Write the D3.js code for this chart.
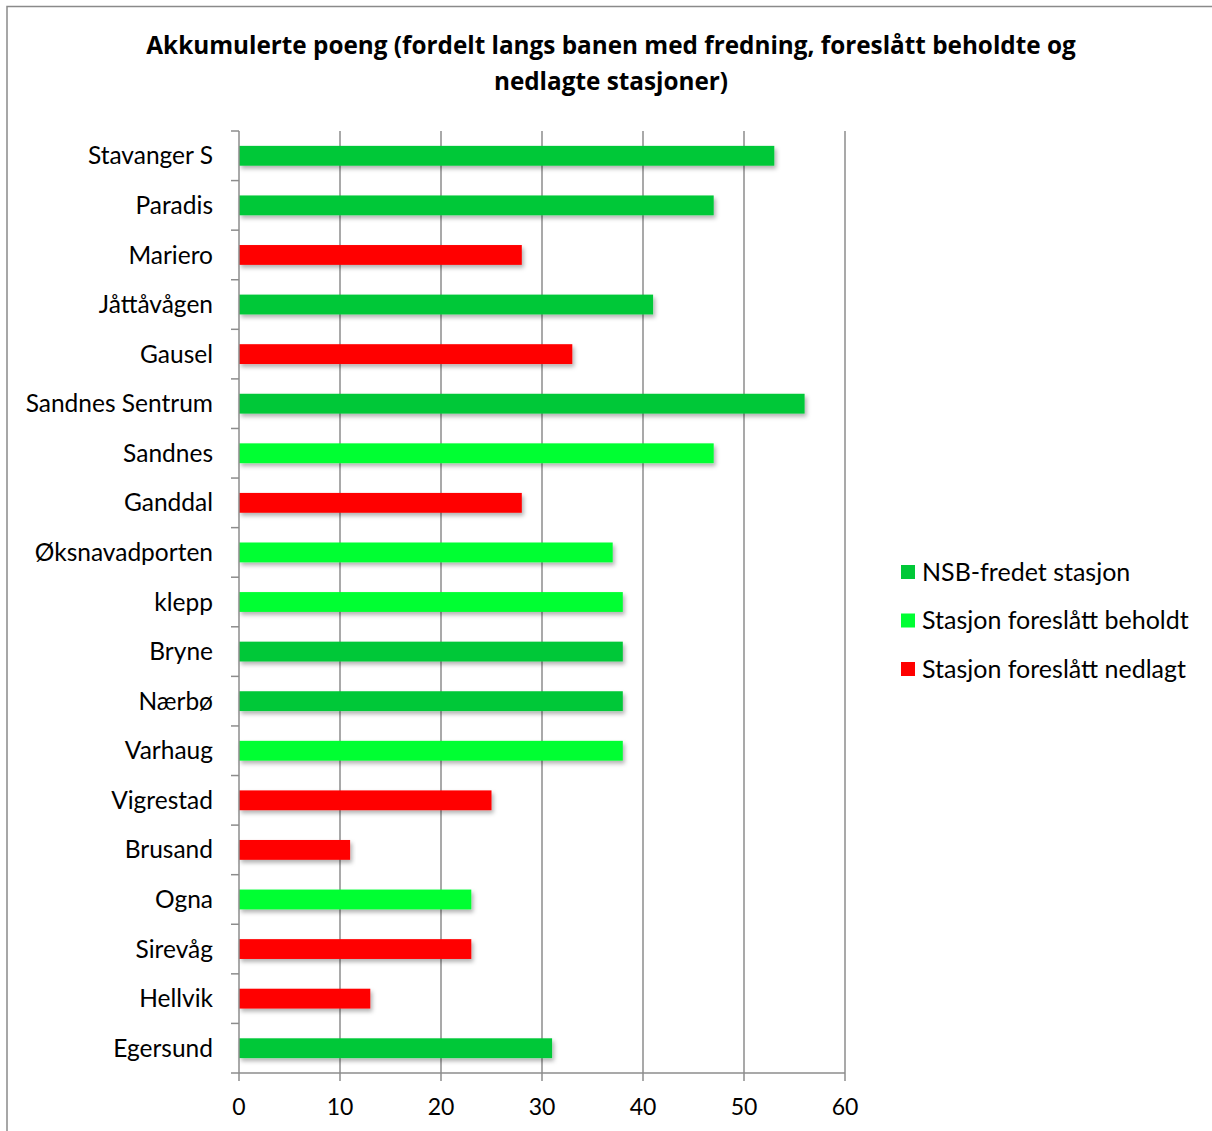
<!DOCTYPE html>
<html>
<head>
<meta charset="utf-8">
<title>Akkumulerte poeng</title>
<script src="https://d3js.org/d3.v7.min.js"></script>
<style>
    body { margin: 0; background: #fff; font-family: Lato, "Open Sans", sans-serif; }
    svg { display: block; }
</style>
</head>
<body>
<svg id="chart" width="1212" height="1131"></svg>
<script>
    const stations = ["Stavanger S", "Paradis", "Mariero", "Jåttåvågen", "Gausel", "Sandnes Sentrum",
        "Sandnes", "Ganddal", "Øksnavadporten", "klepp", "Bryne", "Nærbø", "Varhaug",
        "Vigrestad", "Brusand", "Ogna", "Sirevåg", "Hellvik", "Egersund"];
    const points = [53, 47, 28, 41, 33, 56, 47, 28, 37, 38, 38, 38, 38, 25, 11, 23, 23, 13, 31];
    // 0 = NSB-fredet, 1 = foreslått beholdt, 2 = foreslått nedlagt
    const status = [0, 0, 2, 0, 2, 0, 1, 2, 1, 1, 0, 0, 1, 2, 2, 1, 2, 2, 0];
    const legendLabels = ["NSB-fredet stasjon", "Stasjon foreslått beholdt", "Stasjon foreslått nedlagt"];
    const colors = ["#00c837", "#00ff33", "#ff0000"];
    const xTicks = [0, 10, 20, 30, 40, 50, 60];
    const titleLines = ["Akkumulerte poeng (fordelt langs banen med fredning, foreslått beholdte og",
        "nedlagte stasjoner)"];

    const svg = d3.select("#chart");
    const font = "Lato, 'Open Sans', sans-serif";

    // frame
    svg.append("rect")
        .attr("x", 7).attr("y", 6.5)
        .attr("width", 1240).attr("height", 1160)
        .attr("fill", "none").attr("stroke", "#8a8a8a").attr("stroke-width", 1.5);

    // title
    svg.selectAll(".title")
        .data(titleLines)
        .enter().append("text")
        .attr("x", 611)
        .attr("y", (d, i) => 54 + i * 36)
        .attr("text-anchor", "middle")
        .style("font-family", "'Open Sans', sans-serif")
        .style("font-weight", "bold")
        .style("font-size", "24.3px")
        .text(d => d);

    const x = d3.scaleLinear().domain([0, 60]).range([239, 845]);
    const y = d3.scaleBand().domain(stations).range([131, 1073]).paddingInner(0.6).paddingOuter(0.3);

    const defs = svg.append("defs");
    const f = defs.append("filter").attr("id", "shadow").attr("x", "-5%").attr("y", "-50%")
        .attr("width", "110%").attr("height", "250%");
    f.append("feDropShadow").attr("dx", 2).attr("dy", 3).attr("stdDeviation", 2)
        .attr("flood-color", "#000").attr("flood-opacity", 0.3);

    // gridlines
    svg.append("g")
        .selectAll("line")
        .data(xTicks.slice(1))
        .enter().append("line")
        .attr("x1", d => x(d)).attr("x2", d => x(d))
        .attr("y1", 131).attr("y2", 1073)
        .attr("stroke", "#8c8c8c").attr("stroke-width", 1.5);

    // bars
    svg.append("g")
        .selectAll("rect")
        .data(stations)
        .enter().append("rect")
        .attr("x", x(0))
        .attr("y", d => y(d))
        .attr("width", (d, i) => x(points[i]) - x(0))
        .attr("height", y.bandwidth())
        .attr("fill", (d, i) => colors[status[i]])
        .attr("filter", "url(#shadow)");

    // y axis
    const step = y.step();
    const bounds = stations.map(d => y(d) - (step - y.bandwidth()) / 2).concat([1073]);
    const yAxis = svg.append("g");
    yAxis.append("line")
        .attr("x1", 239).attr("x2", 239).attr("y1", 131).attr("y2", 1073)
        .attr("stroke", "#8c8c8c").attr("stroke-width", 1.5);
    yAxis.selectAll(".tk")
        .data(bounds)
        .enter().append("line")
        .attr("x1", 231).attr("x2", 239)
        .attr("y1", d => d).attr("y2", d => d)
        .attr("stroke", "#8c8c8c").attr("stroke-width", 1.5);
    yAxis.selectAll("text")
        .data(stations)
        .enter().append("text")
        .attr("x", 213)
        .attr("y", d => y(d) + y.bandwidth() / 2)
        .attr("dy", "0.35em")
        .attr("text-anchor", "end")
        .style("font-family", font)
        .style("font-size", "24.5px")
        .text(d => d);

    // x axis
    const xAxis = svg.append("g");
    xAxis.append("line")
        .attr("x1", 239).attr("x2", 845).attr("y1", 1073).attr("y2", 1073)
        .attr("stroke", "#8c8c8c").attr("stroke-width", 1.5);
    xAxis.selectAll(".tk")
        .data(xTicks)
        .enter().append("line")
        .attr("x1", d => x(d)).attr("x2", d => x(d))
        .attr("y1", 1073).attr("y2", 1081)
        .attr("stroke", "#8c8c8c").attr("stroke-width", 1.5);
    xAxis.selectAll("text")
        .data(xTicks)
        .enter().append("text")
        .attr("x", d => x(d))
        .attr("y", 1107)
        .attr("dy", "0.35em")
        .attr("text-anchor", "middle")
        .style("font-family", font)
        .style("font-size", "23px")
        .text(d => d);

    // legend
    const legend = svg.append("g")
        .selectAll("g")
        .data(legendLabels)
        .enter().append("g")
        .attr("transform", (d, i) => `translate(901, ${572 + i * 48.5})`);
    legend.append("rect")
        .attr("x", 0).attr("y", -7).attr("width", 14).attr("height", 14)
        .attr("fill", (d, i) => colors[i]);
    legend.append("text")
        .attr("x", 21).attr("y", 0).attr("dy", "0.35em")
        .style("font-family", font)
        .style("font-size", "25px")
        .text(d => d);
</script>
</body>
</html>
